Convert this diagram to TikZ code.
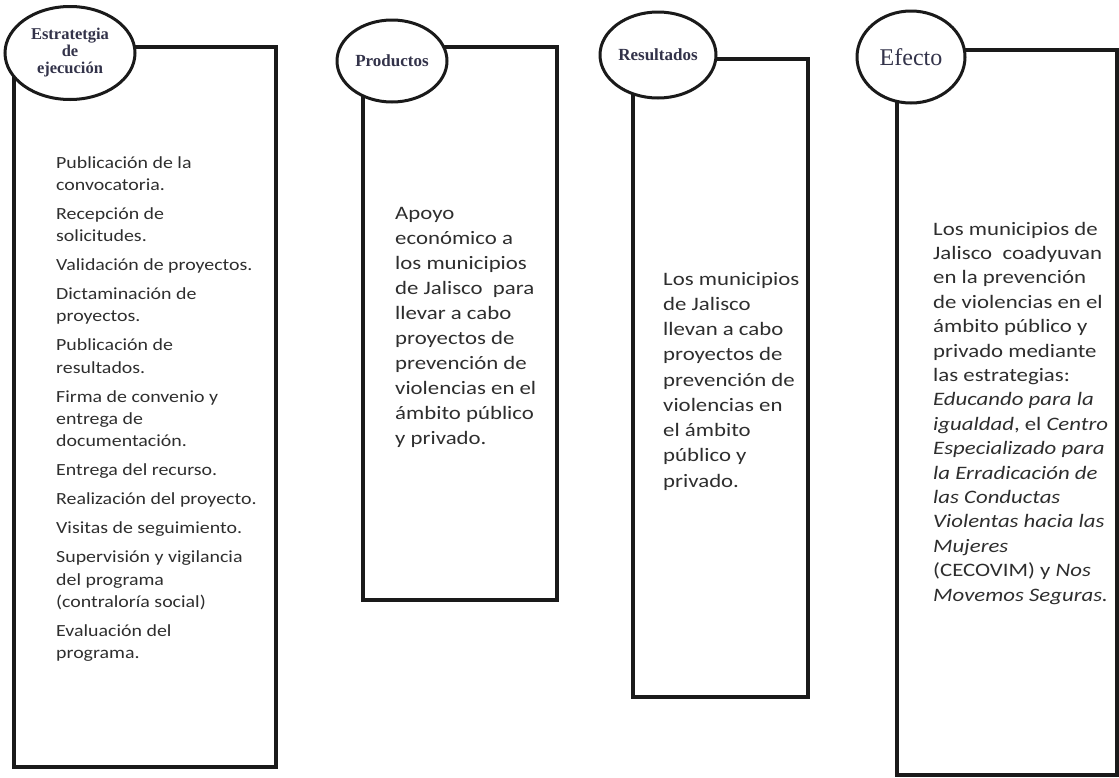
\documentclass[tikz,border=0pt]{standalone}
\usepackage{fontspec}
\usepackage{graphicx}
\setmainfont{Carlito}
\newfontfamily\lblfont{Liberation Serif}
\usetikzlibrary{shapes.geometric}
\definecolor{linec}{HTML}{1A1A1A}
\definecolor{txtc}{HTML}{2E2E2E}
\definecolor{lblc}{HTML}{33334A}
\newcommand{\stretchtext}[4]{\scalebox{#1}[1]{\fontsize{#2}{#3}\selectfont\begin{tabular}[t]{@{}l@{}}#4\end{tabular}}}
\begin{document}
\begin{tikzpicture}[x=1pt,y=-1pt,
  box/.style={draw=linec, line width=3.4pt, rectangle, inner sep=0pt},
  oval/.style={draw=linec, line width=3pt, ellipse, fill=white, inner sep=0pt, text=lblc, align=center},
  body/.style={anchor=base west, inner sep=0pt, text=txtc}]
\useasboundingbox (0,0) rectangle (1119,777);
% boxes
\node[box, minimum width=262pt, minimum height=720pt] (b1) at (145,407) {};
\node[box, minimum width=194pt, minimum height=553pt] (b2) at (460,323.5) {};
\node[box, minimum width=175pt, minimum height=638pt] (b3) at (720.5,378) {};
\node[box, minimum width=220pt, minimum height=725pt] (b4) at (1007,412.5) {};
% ovals
\node[oval, minimum width=130pt, minimum height=93pt, font=\lblfont\bfseries\fontsize{16.5}{17}\selectfont] (e1) at (70,53) {Estratetgia\\de\\ejecución};
\node[oval, minimum width=110pt, minimum height=82pt, font=\lblfont\bfseries\fontsize{17}{17}\selectfont] (e2) at (392,61) {Productos};
\node[oval, minimum width=116pt, minimum height=86pt, font=\lblfont\bfseries\fontsize{17}{17}\selectfont] (e3) at (658,55) {Resultados};
\node[oval, minimum width=108pt, minimum height=92pt, font=\lblfont\fontsize{24}{25}\selectfont] (e4) at (911,57) {Efecto};
% texts
\node[body] (t1) at (56,168) {\stretchtext{1.17}{17}{22.3}{%
Publicación de la\\ convocatoria.\\[6.7pt]
Recepción de\\ solicitudes.\\[6.7pt]
Validación de proyectos.\\[6.7pt]
Dictaminación de\\ proyectos.\\[6.7pt]
Publicación de\\ resultados.\\[6.7pt]
Firma de convenio y\\ entrega de\\ documentación.\\[6.7pt]
Entrega del recurso.\\[6.7pt]
Realización del proyecto.\\[6.7pt]
Visitas de seguimiento.\\[6.7pt]
Supervisión y vigilancia\\ del programa\\ (contraloría social)\\[6.7pt]
Evaluación del\\ programa.}};
\node[body] (t2) at (395,219) {\stretchtext{1.2}{19}{25}{%
Apoyo\\ económico a\\ los municipios\\ de Jalisco \ para\\ llevar a cabo\\ proyectos de\\ prevención de\\ violencias en el\\ ámbito público\\ y privado.}};
\node[body] (t3) at (663,285) {\stretchtext{1.2}{19}{25.25}{%
Los municipios\\ de Jalisco\\ llevan a cabo\\ proyectos de\\ prevención de\\ violencias en\\ el ámbito\\ público y\\ privado.}};
\node[body] (t4) at (933,235) {\stretchtext{1.2}{19}{24.4}{%
Los municipios de\\ Jalisco \ coadyuvan\\ en la prevención\\ de violencias en el\\ ámbito público y\\ privado mediante\\ las estrategias:\\
\textit{Educando para la}\\ \textit{igualdad}, el \textit{Centro}\\ \textit{Especializado para}\\ \textit{la Erradicación de}\\ \textit{las Conductas}\\ \textit{Violentas hacia las}\\ \textit{Mujeres}\\ (CECOVIM) y \textit{Nos}\\ \textit{Movemos Seguras.}}};
\end{tikzpicture}
\end{document}
